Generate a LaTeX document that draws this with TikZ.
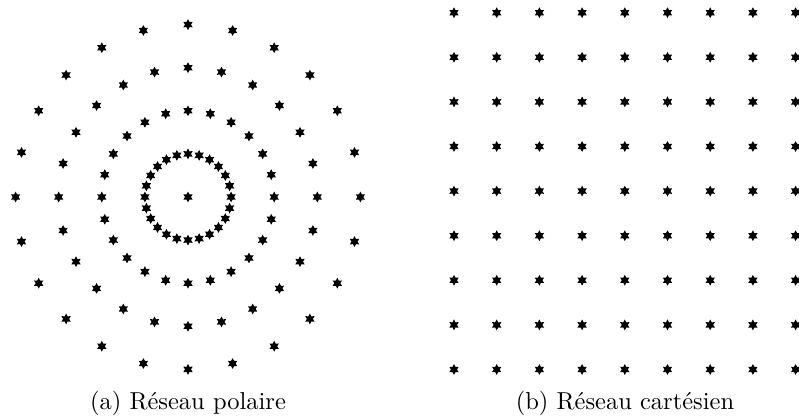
\documentclass[tikz,border=0pt]{standalone}
\usepackage{tikz}
\usetikzlibrary{shapes.geometric}

\begin{document}
\begin{tikzpicture}[
          x=0.4082pt, y=-0.4082pt,
          pt/.style={star, star points=6, star point ratio=1.8,
                     fill=black, draw=none, inner sep=0pt,
                     minimum size=4.4pt},
          legende/.style={anchor=base, font=\normalsize}
        ]
          \useasboundingbox (0,0) rectangle (799,420);
          % polar lattice
          \node[pt] (c) at (188,197) {};
          \foreach \r in {1,...,4}
            \foreach \k in {0,...,23}
              \node[pt] (p-\r-\k) at ({188+43.1*\r*cos(90+15*\k)},{197+43.1*\r*sin(90+15*\k)}) {};
          % cartesian lattice
          \foreach \i in {0,...,8}
            \foreach \j in {0,...,8}
              \node[pt] (g-\i-\j) at ({454+42.7*\i},{12.7+44.6*\j}) {};
          \node[legende] (capa) at (188,410) {(a) Réseau polaire};
          \node[legende] (capb) at (625,410) {(b) Réseau cartésien};
        \end{tikzpicture}
\end{document}
